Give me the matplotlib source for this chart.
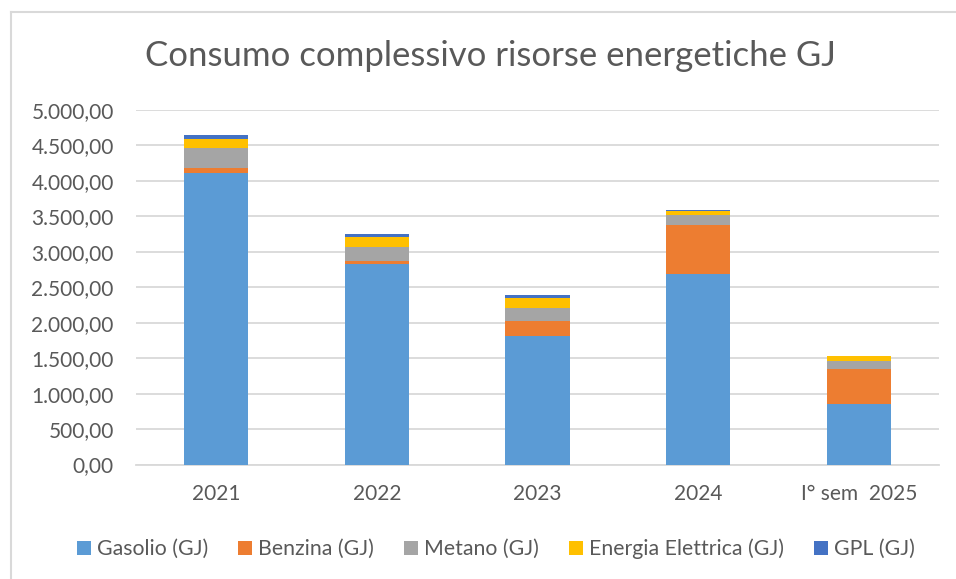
import numpy as np
import matplotlib
matplotlib.use("Agg")
import matplotlib.pyplot as plt
from matplotlib.patches import Patch
from matplotlib.lines import Line2D
from matplotlib.ticker import FuncFormatter, MultipleLocator

plt.rcParams['font.family'] = ['Lato', 'DejaVu Sans']

# Data (GJ)
categories = ["2021", "2022", "2023", "2024", "I° sem  2025"]
gasolio = [4115, 2827, 1813, 2680, 855]
benzina = [62, 46, 211, 696, 493]
metano = [282, 193, 183, 145, 117]
energia = [135, 141, 145, 56, 70]
gpl = [52, 47, 42, 10, 0]

series_names = ["Gasolio (GJ)", "Benzina (GJ)", "Metano (GJ)",
                "Energia Elettrica (GJ)", "GPL (GJ)"]
series_values = [gasolio, benzina, metano, energia, gpl]
COLORS = ["#5B9BD5", "#ED7D31", "#A5A5A5", "#FFC000", "#4472C4"]
TEXT = "#595959"
GRID = "#D9D9D9"

W, H = 956, 579
fig = plt.figure(figsize=(W / 100, H / 100), dpi=100)
ax = fig.add_axes([136 / W, 1 - 464.5 / H, (939 - 136) / W, (464.5 - 110) / H])

x = np.arange(len(categories))
bottom = np.zeros(len(categories))
for vals, col in zip(series_values, COLORS):
    vals = np.array(vals, dtype=float)
    ax.bar(x, vals, width=0.4, bottom=bottom, color=col, zorder=3)
    bottom += vals

ax.set_xlim(-0.5, len(categories) - 0.5)
ax.set_ylim(0, 5000)
ax.yaxis.set_major_locator(MultipleLocator(500))


def it_fmt(v, pos):
    s = f"{v:,.2f}"
    return s.replace(",", "X").replace(".", ",").replace("X", ".")


ax.yaxis.set_major_formatter(FuncFormatter(it_fmt))
ax.set_xticks(x)
ax.set_xticklabels(categories)
ax.grid(axis='y', color=GRID, linewidth=1.3, zorder=0)
for s in ["top", "right", "left"]:
    ax.spines[s].set_visible(False)
ax.spines["bottom"].set_color(GRID)
ax.spines["bottom"].set_linewidth(1.3)
ax.tick_params(axis='both', length=0, labelsize=15, colors=TEXT)
ax.tick_params(axis='y', pad=16)
ax.tick_params(axis='x', pad=14)

fig.text(490 / W, 1 - 56 / H, "Consumo complessivo risorse energetiche GJ",
         ha='center', va='center', fontsize=25, color=TEXT)

handles = [Patch(facecolor=c, edgecolor='none') for c in COLORS]
fig.legend(handles, series_names, loc='center', ncol=5,
           bbox_to_anchor=(496 / W, 1 - 549 / H), frameon=False,
           fontsize=15.3, labelcolor=TEXT, handlelength=0.65, handleheight=0.65,
           handletextpad=0.3, columnspacing=1.4)

# chart area border (only left and top edges fall inside the picture)
fig.add_artist(Line2D([11 / W, 11 / W], [0, 1 - 12 / H], color=GRID, linewidth=1.5))
fig.add_artist(Line2D([11 / W, 1], [1 - 12 / H, 1 - 12 / H], color=GRID, linewidth=1.5))

fig.savefig("out.png", dpi=100)
